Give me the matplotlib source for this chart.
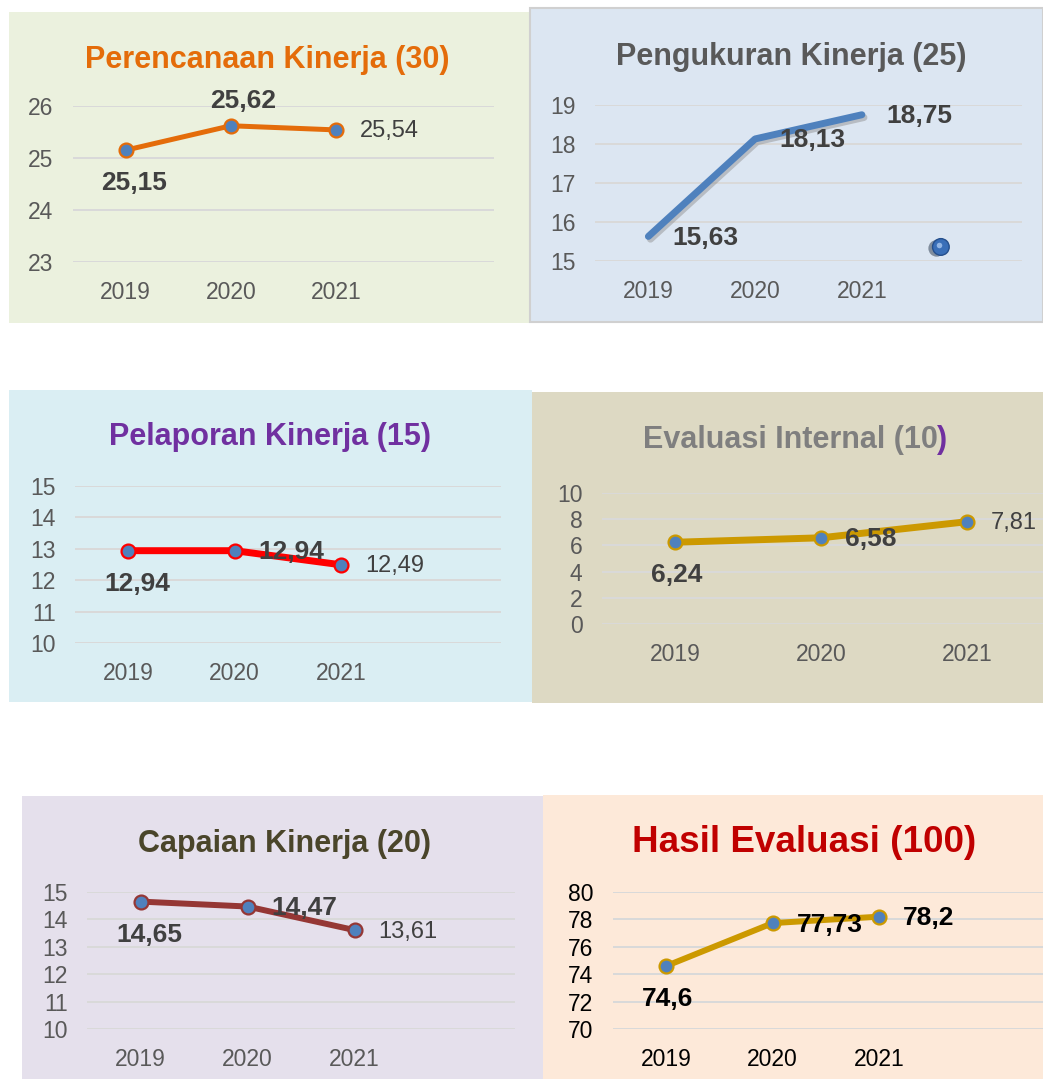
import matplotlib
matplotlib.use("Agg")
import matplotlib.pyplot as plt
import matplotlib.patheffects as pe
from matplotlib.patches import Rectangle

W, H = 1043, 1079

# =========================================================================
# Data
# =========================================================================

years = ["2019", "2020", "2021"]

perencanaan = [25.15, 25.62, 25.54]
pengukuran = [15.63, 18.13, 18.75]
pelaporan = [12.94, 12.94, 12.49]
evaluasi_internal = [6.24, 6.58, 7.81]
capaian = [14.65, 14.47, 13.61]
hasil_evaluasi = [74.6, 77.73, 78.2]

plt.rcParams["font.family"] = ["Liberation Sans", "DejaVu Sans"]

fig = plt.figure(figsize=(W / 100, H / 100), dpi=100)
fig.patch.set_facecolor("white")


def fig_box(l, t, r, b):
    return [l / W, 1 - b / H, (r - l) / W, (b - t) / H]


def background(l, t, r, b, color, edge="none"):
    x, y, w, h = fig_box(l, t, r, b)
    fig.add_artist(Rectangle((x, y), w, h, transform=fig.transFigure,
                             facecolor=color, edgecolor=edge, lw=1.5, zorder=-5))


def title(xc, base, text, color, size=22):
    return fig.text(xc / W, 1 - base / H, text, ha="center", va="baseline",
                    color=color, fontsize=size, fontweight="bold")


# offsets in pixels (dx right, dy down)
OFFSETS = {"below": (-24, 33), "above": (-21, -25), "right": (24, 1.5)}


def chart(box, ncat_span, ylim, yticks, values, line_color, lw,
          places, bolds, tick_color="#595959", label_color="#404040",
          markers=True, shadow=False):
    ax = fig.add_axes(fig_box(*box))
    ax.set_facecolor("none")
    x = list(range(len(values)))
    kw = {}
    if markers:
        kw = dict(marker="o", markersize=10, markerfacecolor="#4F81BD",
                  markeredgecolor=line_color, markeredgewidth=1.6)
    line, = ax.plot(x, values, color=line_color, lw=lw, solid_capstyle="round",
                    zorder=3, **kw)
    if shadow:
        line.set_path_effects([pe.SimpleLineShadow(offset=(1.5, -2), shadow_color="#8a8a8a",
                                                   alpha=0.45),
                               pe.Normal()])
    for xi, v, place, bold in zip(x, values, places, bolds):
        dx, dy = OFFSETS[place]
        ax.annotate(str(v).replace(".", ","), (xi, v),
                    xytext=(dx * 0.72, -dy * 0.72), textcoords="offset points",
                    ha="left", va="center", color=label_color,
                    fontsize=19 if bold else 17,
                    fontweight="bold" if bold else "normal", zorder=5)
    ax.set_xlim(-0.5, ncat_span - 0.5)
    ax.set_ylim(*ylim)
    ax.set_yticks(yticks)
    ax.set_xticks(x)
    ax.set_xticklabels(years)
    ax.grid(axis="y", color="#D9D9D9", lw=1.4)
    ax.set_axisbelow(True)
    for s in ax.spines.values():
        s.set_visible(False)
    ax.tick_params(length=0, labelsize=16.5, colors=tick_color, pad=14)
    return ax


# -------------------------------------------------------------------------
# Perencanaan Kinerja (30)
# -------------------------------------------------------------------------
background(9, 12, 530, 323, "#EBF1DE")
chart((73, 106, 494, 262), 4, (23, 26), [23, 24, 25, 26], perencanaan,
      "#E46C0A", 3.6, ["below", "above", "right"], [True, True, False])
title(267, 68, "Perencanaan Kinerja (30)", "#E46C0A")

# -------------------------------------------------------------------------
# Pengukuran Kinerja (25)
# -------------------------------------------------------------------------
background(530, 8, 1043, 322, "#DCE6F2", edge="#D0D0D0")
ax2 = chart((595, 105, 1022, 261), 4, (15, 19), [15, 16, 17, 18, 19], pengukuran,
            "#4F81BD", 5, ["right", "right", "right"], [True, True, True],
            markers=False, shadow=True)
# small sphere decoration
ax2.plot([0.81], [0.09], "o", transform=ax2.transAxes, markersize=12,
         color="#3A6FB8", markeredgecolor="#254F8C", markeredgewidth=1,
         zorder=6, path_effects=[pe.SimplePatchShadow(offset=(-3, -1), alpha=0.45),
                                 pe.Normal()])
ax2.plot([0.806], [0.103], "o", transform=ax2.transAxes, markersize=4,
         color="#A9C8F0", markeredgewidth=0, alpha=0.8, zorder=7)
title(791, 65, "Pengukuran Kinerja (25)", "#595959")

# -------------------------------------------------------------------------
# Pelaporan Kinerja (15)
# -------------------------------------------------------------------------
background(9, 390, 532, 702, "#DAEEF3")
chart((75, 486, 501, 643), 4, (10, 15), [10, 11, 12, 13, 14, 15], pelaporan,
      "#FF0000", 5, ["below", "right", "right"], [True, True, False])
title(270, 445, "Pelaporan Kinerja (15)", "#7030A0")

# -------------------------------------------------------------------------
# Evaluasi Internal (10)
# -------------------------------------------------------------------------
background(532, 392, 1043, 703, "#DDD9C3")
chart((602, 493, 1043, 624), 3.02, (0, 10), [0, 2, 4, 6, 8, 10], evaluasi_internal,
      "#CC9900", 5, ["below", "right", "right"], [True, True, False])
t4 = title(790, 448, "Evaluasi Internal (10", "#7F7F7F")
fig.add_artist(plt.Annotation(")", xy=(1, 0), xycoords=t4, va="bottom", ha="left",
                              color="#7030A0", fontsize=22, fontweight="bold"))

# -------------------------------------------------------------------------
# Capaian Kinerja (20)
# -------------------------------------------------------------------------
background(22, 796, 543, 1079, "#E5E0EC")
chart((87, 892, 515, 1029), 4, (10, 15), [10, 11, 12, 13, 14, 15], capaian,
      "#953735", 4.3, ["below", "right", "right"], [True, True, False])
title(284, 852, "Capaian Kinerja (20)", "#4A452A")

# -------------------------------------------------------------------------
# Hasil Evaluasi (100)
# -------------------------------------------------------------------------
background(543, 795, 1043, 1079, "#FDE9D9")
chart((613, 892, 1043, 1029), 4.04, (70, 80), [70, 72, 74, 76, 78, 80], hasil_evaluasi,
      "#CC9900", 4.3, ["below", "right", "right"], [True, True, True],
      tick_color="black", label_color="black")
title(804, 852, "Hasil Evaluasi (100)", "#C00000", size=26.5)

fig.savefig("out.png", dpi=100)
